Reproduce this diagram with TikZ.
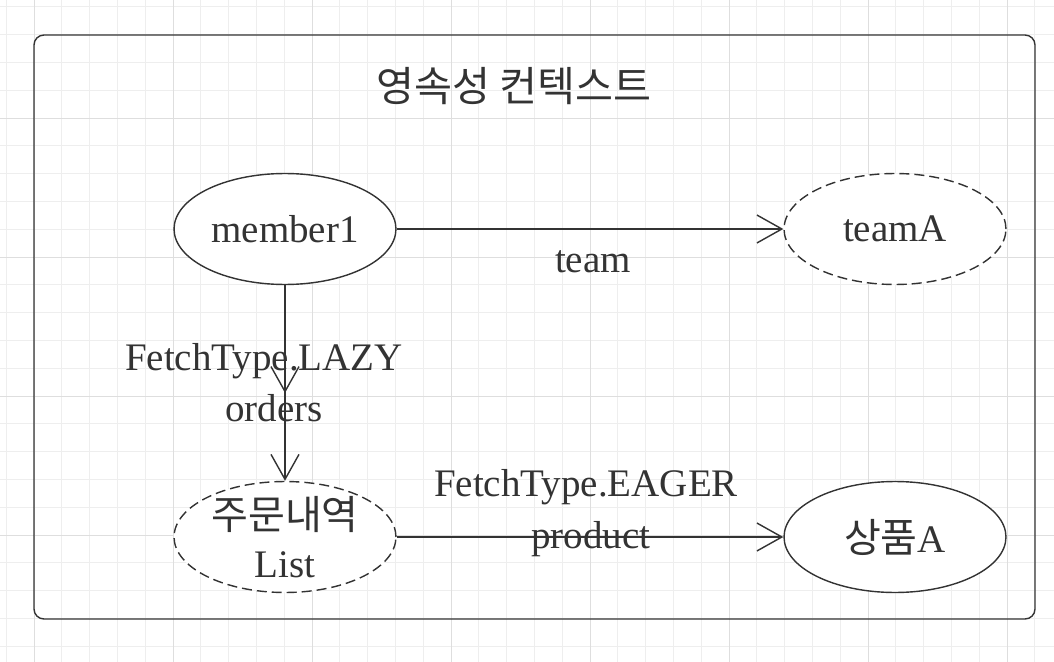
\documentclass[tikz,border=0pt]{standalone}
\usepackage{fontspec}
\setmainfont{Liberation Serif}
\newfontfamily\kr{Noto Sans CJK KR}
\usetikzlibrary{arrows.meta, shapes.geometric}
\definecolor{ink}{HTML}{333333}
\definecolor{gridminor}{HTML}{EEEEEE}
\definecolor{gridmajor}{HTML}{DEDEDE}

\begin{document}
\begin{tikzpicture}[x=0.02cm, y=-0.02cm,
		>={Straight Barb[length=0.5cm, width=0.56cm]},
		every node/.style={text=ink, font=\fontsize{22.2}{27}\selectfont},
		entity/.style={ellipse, draw=ink, thick, fill=white, minimum width=4.44cm, minimum height=2.22cm, inner sep=-4pt, align=center},
		proxy/.style={entity, dash pattern=on 0.2cm off 0.1cm},
		rel/.style={thick, ink, ->}]
			\useasboundingbox (0,0) rectangle (1054,662);
			\fill[white] (0,0) rectangle (1054,662); % background
			\foreach \gx in {0,...,37} \draw[gridminor] ({6.2+27.8*\gx},0) -- ({6.2+27.8*\gx},662); % grid
			\foreach \gy in {0,...,23} \draw[gridminor] (0,{6.8+27.8*\gy}) -- (1054,{6.8+27.8*\gy});
			\foreach \gx in {0,...,7} \draw[gridmajor] ({34+139*\gx},0) -- ({34+139*\gx},662);
			\foreach \gy in {1,...,4} \draw[gridmajor] (0,{-21+139*\gy}) -- (1054,{-21+139*\gy});
			\draw[ink, thick, rounded corners=0.2cm] (34,35) rectangle (1035,619); % context box
			\node (ctxtitle) at (514,86) {\kr\fontsize{23.5}{28}\selectfont 영속성 컨텍스트};
			% entities
			\node[entity] (member1) at (285,229) {member1};
			\node[proxy] (teamA) at (895,229) {teamA};
			\node[proxy] (orderlist) at (285,537) {{\kr\fontsize{22.8}{27}\selectfont 주문내역}\\[0pt]List};
			\node[entity] (productA) at (895,537) {{\kr\fontsize{22.8}{27}\selectfont 상품}A};
			\coordinate (lazytip) at (285,393);
			% relations
			\draw[rel] (member1) -- (teamA); % team
			\draw[rel] (member1) -- (orderlist); % orders
			\draw[rel] (member1) -- (lazytip); % lazy proxy
			\draw[rel] (orderlist) -- (productA); % product
			% labels
			\node[anchor=base] (teamlbl) at (593,272) {team};
			\node[anchor=base] (lazylbl) at (264,370) {FetchType.LAZY};
			\node[anchor=base] (orderslbl) at (274,421) {orders};
			\node[anchor=base] (eagerlbl) at (586,496) {FetchType.EAGER};
			\node[anchor=base] (productlbl) at (591,548) {product};
\end{tikzpicture}
\end{document}
